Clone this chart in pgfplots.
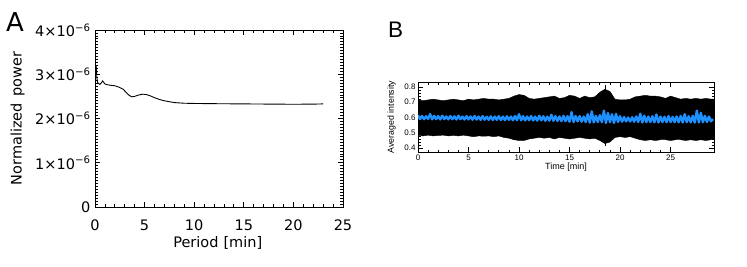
\documentclass[border=0pt]{standalone}
\usepackage{fontspec}
\setmainfont{Liberation Sans}
\newfontfamily\dejavu{DejaVu Sans}
\usepackage{pgfplots}
\pgfplotsset{compat=1.18}
\definecolor{dblue}{RGB}{30,144,255}
\begin{document}
\begin{tikzpicture}
\path (0pt,0pt) rectangle (747pt,266pt);
\node[font=\dejavu\fontsize{26}{28}\selectfont, inner sep=0pt] at (15pt,243.5pt) {A};
\node[font=\fontsize{22.5}{25}\selectfont, inner sep=0pt] at (395.5pt,236pt) {B};
\begin{axis}[at={(95pt,59pt)}, anchor=south west, scale only axis,
  width=248pt, height=177pt,
  xmin=0, xmax=25, ymin=0, ymax=4e-6,
  scaled y ticks=false,
  xtick={0,5,10,15,20,25},
  ytick={0,1e-6,2e-6,3e-6,4e-6},
  yticklabels={0,1×10\textsuperscript{−6},2×10\textsuperscript{−6},3×10\textsuperscript{−6},4×10\textsuperscript{−6}},
  minor x tick num=4, minor y tick num=14,
  tick align=inside, axis line style={line width=0.9pt},
  major tick length=5pt, minor tick length=2.6pt,
  every tick/.style={black, line width=0.8pt},
  /pgf/number format/assume math mode=true,
  ticklabel style={font=\dejavu\fontsize{14.5}{16}\selectfont},
  xticklabel style={anchor=center, yshift=-18pt},
  yticklabel style={xshift=-1pt},
  label style={font=\dejavu\fontsize{14.5}{16}\selectfont},
  xlabel={Period\hspace{0.35em}[min]}, ylabel={Normalized\hspace{0.15em} power},
  xlabel style={at={(axis description cs:0.495,0)}, anchor=center, yshift=-36pt},
  ylabel style={at={(axis description cs:-0.3125,0.5)}, anchor=center},
]
\addplot[black, line width=0.9pt] coordinates {
(0.12,3.2e-6) (0.18,2.95e-6) (0.25,2.82e-6) (0.35,2.79e-6) (0.5,2.77e-6) (0.65,2.81e-6) (0.77,2.85e-6) (0.9,2.81e-6) (1.0,2.78e-6) (1.3,2.76e-6) (1.6,2.75e-6) (2.0,2.74e-6) (2.4,2.71e-6) (2.85,2.66e-6) (3.1,2.6e-6) (3.4,2.53e-6) (3.7,2.49e-6) (4.0,2.5e-6) (4.4,2.53e-6) (4.8,2.55e-6) (5.2,2.54e-6) (5.6,2.51e-6) (6.0,2.47e-6) (6.5,2.43e-6) (7.0,2.40e-6) (7.5,2.38e-6) (8,2.36e-6) (9,2.345e-6) (10,2.34e-6) (12,2.335e-6) (15,2.33e-6) (18,2.325e-6) (20,2.322e-6) (22,2.325e-6) (23,2.33e-6)
};
\end{axis}
\begin{axis}[at={(418pt,114pt)}, anchor=south west, scale only axis,
  width=296pt, height=70pt,
  xmin=0, xmax=29.3, ymin=0.375, ymax=0.832,
  xtick={0,5,10,15,20,25},
  ytick={0.4,0.5,0.6,0.7,0.8},
  minor x tick num=4, minor y tick num=4,
  tick align=inside, axis line style={line width=0.9pt},
  major tick length=5pt, minor tick length=2.5pt,
  every tick/.style={black, line width=0.7pt},
  /pgf/number format/assume math mode=true,
  ticklabel style={font=\fontsize{8}{9}\selectfont},
  xticklabel style={anchor=center, yshift=-5.5pt},
  xlabel={Time [min]}, ylabel={Averaged intensity},
  xlabel style={font=\fontsize{9}{10}\selectfont, at={(axis description cs:0.5,0)}, anchor=center, yshift=-15.5pt},
  ylabel style={font=\fontsize{8.8}{10}\selectfont, at={(axis description cs:-0.0895,0.5)}, anchor=center},
  yticklabel style={xshift=1pt},
]
\addplot[fill=black, draw=black] coordinates {
(0,0.715) (0.5,0.71) (1,0.715) (1.5,0.72) (2,0.715) (2.5,0.71) (3,0.715) (3.5,0.72) (4,0.715) (4.5,0.71) (5,0.72) (5.5,0.715) (6,0.72) (6.5,0.725) (7,0.72) (7.5,0.72) (8,0.715) (8.5,0.72) (9,0.725) (9.5,0.74) (10,0.75) (10.5,0.745) (11,0.725) (11.5,0.72) (12,0.725) (12.5,0.73) (13,0.735) (13.5,0.74) (14,0.725) (14.5,0.73) (15,0.745) (15.5,0.74) (16,0.725) (16.5,0.74) (17,0.73) (17.5,0.735) (18,0.765) (18.5,0.785) (19,0.77) (19.5,0.72) (20,0.715) (20.5,0.715) (21,0.72) (21.5,0.735) (22,0.74) (22.5,0.745) (23,0.74) (23.5,0.74) (24,0.735) (24.5,0.725) (25,0.74) (25.5,0.73) (26,0.72) (26.5,0.725) (27,0.72) (27.5,0.725) (28,0.72) (28.5,0.725) (29,0.72) (29.3,0.72)
(29.3,0.455) (29,0.455) (28.5,0.45) (28,0.455) (27.5,0.45) (27,0.455) (26.5,0.45) (26,0.455) (25.5,0.455) (25,0.45) (24.5,0.455) (24,0.455) (23.5,0.45) (23,0.455) (22.5,0.45) (22,0.455) (21.5,0.465) (21,0.475) (20.5,0.47) (20,0.475) (19.5,0.47) (19,0.44) (18.5,0.43) (18,0.45) (17.5,0.465) (17,0.46) (16.5,0.465) (16,0.47) (15.5,0.465) (15,0.46) (14.5,0.465) (14,0.47) (13.5,0.46) (13,0.47) (12.5,0.465) (12,0.47) (11.5,0.465) (11,0.46) (10.5,0.45) (10,0.45) (9.5,0.455) (9,0.465) (8.5,0.47) (8,0.48) (7.5,0.475) (7,0.48) (6.5,0.478) (6,0.48) (5.5,0.475) (5,0.48) (4.5,0.485) (4,0.48) (3.5,0.483) (3,0.48) (2.5,0.485) (2,0.483) (1.5,0.48) (1,0.485) (0.5,0.48) (0,0.485)
} -- cycle;
\addplot[black, line width=1pt] coordinates {(18.6,0.415) (18.6,0.81)};
\addplot[black, line width=2pt] coordinates {(0.05,0.49) (0.05,0.72)};
\addplot[dblue, line width=2.4pt, line join=round] coordinates {
(0.0,0.615) (0.2,0.590) (0.4,0.610) (0.6,0.589) (0.8,0.608) (1.0,0.591) (1.2,0.622) (1.4,0.588) (1.6,0.611) (1.8,0.590) (2.0,0.609) (2.2,0.588) (2.4,0.612) (2.6,0.590) (2.8,0.607) (3.0,0.588) (3.2,0.610) (3.4,0.589) (3.6,0.608) (3.8,0.587) (4.0,0.612) (4.2,0.589) (4.4,0.606) (4.6,0.587) (4.8,0.609) (5.0,0.588) (5.2,0.607) (5.4,0.586) (5.6,0.610) (5.8,0.587) (6.0,0.606) (6.2,0.585) (6.4,0.609) (6.6,0.586) (6.8,0.605) (7.0,0.585) (7.2,0.608) (7.4,0.584) (7.6,0.606) (7.8,0.585) (8.0,0.609) (8.2,0.584) (8.4,0.606) (8.6,0.583) (8.8,0.608) (9.0,0.585) (9.2,0.606) (9.4,0.582) (9.6,0.610) (9.8,0.583) (10.0,0.622) (10.2,0.582) (10.4,0.609) (10.6,0.581) (10.8,0.607) (11.0,0.583) (11.2,0.610) (11.4,0.581) (11.6,0.606) (11.8,0.580) (12.0,0.612) (12.2,0.582) (12.4,0.608) (12.6,0.579) (12.8,0.606) (13.0,0.580) (13.2,0.618) (13.4,0.579) (13.6,0.609) (13.8,0.578) (14.0,0.607) (14.2,0.577) (14.4,0.611) (14.6,0.576) (14.8,0.609) (15.0,0.573) (15.2,0.635) (15.4,0.571) (15.6,0.610) (15.8,0.575) (16.0,0.609) (16.2,0.573) (16.4,0.606) (16.6,0.571) (16.8,0.622) (17.0,0.567) (17.2,0.640) (17.4,0.568) (17.6,0.611) (17.8,0.571) (18.0,0.616) (18.2,0.570) (18.4,0.645) (18.6,0.565) (18.8,0.630) (19.0,0.570) (19.2,0.621) (19.4,0.565) (19.6,0.624) (19.8,0.571) (20.0,0.609) (20.2,0.573) (20.4,0.603) (20.6,0.575) (20.8,0.600) (21.0,0.574) (21.2,0.602) (21.4,0.573) (21.6,0.607) (21.8,0.571) (22.0,0.625) (22.2,0.568) (22.4,0.612) (22.6,0.570) (22.8,0.606) (23.0,0.571) (23.2,0.608) (23.4,0.569) (23.6,0.620) (23.8,0.568) (24.0,0.606) (24.2,0.571) (24.4,0.605) (24.6,0.570) (24.8,0.609) (25.0,0.571) (25.2,0.604) (25.4,0.570) (25.6,0.607) (25.8,0.569) (26.0,0.610) (26.2,0.568) (26.4,0.622) (26.6,0.570) (26.8,0.608) (27.0,0.569) (27.2,0.611) (27.4,0.567) (27.6,0.645) (27.8,0.568) (28.0,0.630) (28.2,0.570) (28.4,0.611) (28.6,0.571) (28.8,0.606) (29.0,0.575) (29.2,0.590)
};
\end{axis}
\end{tikzpicture}
\end{document}
